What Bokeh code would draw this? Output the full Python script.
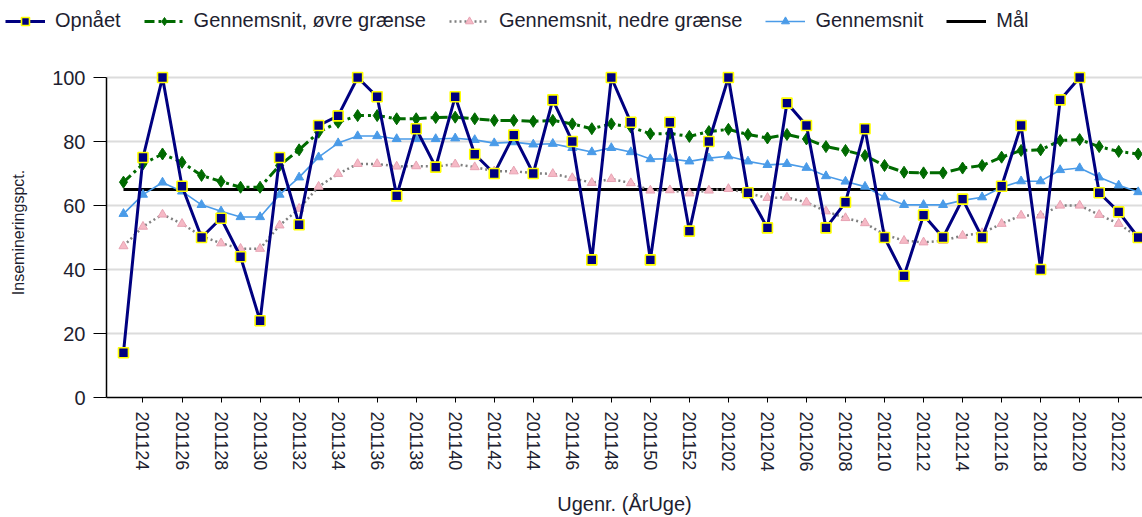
from bokeh.plotting import figure
from bokeh.layouts import column, row
from bokeh.models import ColumnDataSource, Range1d, FixedTicker, Legend, LegendItem
from bokeh.embed import file_html
from bokeh.resources import INLINE

weeks = ["201123", "201124", "201125", "201126", "201127", "201128", "201129", "201130",
         "201131", "201132", "201133", "201134", "201135", "201136", "201137", "201138",
         "201139", "201140", "201141", "201142", "201143", "201144", "201145", "201146",
         "201147", "201148", "201149", "201150", "201151", "201152", "201201", "201202",
         "201203", "201204", "201205", "201206", "201207", "201208", "201209", "201210",
         "201211", "201212", "201213", "201214", "201215", "201216", "201217", "201218",
         "201219", "201220", "201221", "201222", "201223"]

opnaet = [14, 75, 100, 66, 50, 56, 44, 24, 75, 54, 85, 88, 100, 94, 63, 84, 72, 94, 76,
          70, 82, 70, 93, 80, 43, 100, 86, 43, 86, 52, 80, 100, 64, 53, 92, 85, 53, 61,
          84, 50, 38, 57, 50, 62, 50, 66, 85, 40, 93, 100, 64, 58, 50]

ovre = [67.3, 73.0, 76.1, 73.5, 69.4, 67.5, 65.7, 65.7, 72.5, 77.4, 82.9, 86.0, 88.1,
        88.1, 87.1, 87.1, 87.5, 87.6, 87.1, 86.6, 86.6, 86.3, 86.6, 85.5, 84.0, 85.5,
        84.5, 82.4, 82.5, 81.6, 83.1, 83.8, 82.2, 81.1, 82.2, 80.8, 78.4, 77.2, 75.6,
        72.5, 70.4, 70.2, 70.2, 71.7, 72.5, 75.1, 77.2, 77.4, 80.3, 80.6, 78.4, 76.9, 76.1]

gennemsnit = [57.4, 63.4, 67.2, 64.4, 60.2, 58.2, 56.4, 56.4, 63.4, 68.8, 75.1, 79.5,
              81.7, 81.7, 80.8, 80.8, 80.8, 81.0, 80.5, 79.5, 79.8, 79.1, 79.3, 78.0,
              76.7, 78.0, 76.7, 74.5, 74.6, 73.8, 74.8, 75.4, 73.8, 72.7, 73.0, 71.8,
              69.2, 67.5, 65.9, 62.6, 60.2, 60.2, 60.2, 61.6, 62.6, 65.7, 67.6, 67.6,
              71.1, 71.7, 68.8, 66.3, 64.2]

nedre = [47.3, 53.4, 57.2, 54.3, 50.4, 48.2, 46.5, 46.5, 53.8, 59.0, 65.9, 69.9, 73.0,
         73.0, 72.2, 72.3, 72.2, 72.9, 72.0, 70.7, 70.7, 70.1, 69.9, 68.6, 67.1, 68.3,
         67.0, 64.7, 64.8, 63.8, 64.7, 65.2, 63.8, 62.4, 62.5, 61.0, 58.2, 56.1, 54.5,
         50.9, 49.0, 48.5, 49.0, 50.6, 51.4, 54.3, 56.9, 56.9, 60.0, 60.0, 57.1, 54.3, 50.1]

maal = [65, 65, 65, 65, 65, 65, 65, 65, 65, 65, 65, 65, 65, 65, 65, 65, 65, 65, 65, 65,
        65, 65, 65, 65, 65, 65, 65, 65, 65, 65, 65, 65, 65, 65, 65, 65, 65, 65, 65, 65,
        65, 65, 65, 65, 65, 65, 65, 65, 65, 65, 65, 65, 65]

y_ticks = [0, 20, 40, 60, 80, 100]

series_labels = ["Opnået", "Gennemsnit, øvre grænse", "Gennemsnit, nedre grænse",
                 "Gennemsnit", "Mål"]

idx = list(range(len(weeks)))
src = ColumnDataSource(dict(x=idx, week=weeks, opnaet=opnaet, ovre=ovre,
                            gennemsnit=gennemsnit, nedre=nedre, maal=maal))

FONT = "Liberation Sans"
TXT = "#1e1e30"

# styles
S_MAAL = dict(line_color="black", line_width=3)
S_NED_L = dict(line_color="#808080", line_width=2.5, line_dash="2 3")
S_NED_M = dict(marker="triangle", size=9, fill_color="#f6b9c6", line_color="#e7a3b3", line_width=1)
S_GEN_L = dict(line_color="#4a9be8", line_width=1.6)
S_GEN_M = dict(marker="triangle", size=9, fill_color="#4a9be8", line_color="#4a9be8")
S_OVR_L = dict(line_color="#006a00", line_width=3, line_dash="10 4 3 4")
S_OVR_M = dict(marker="diamond", size=12, fill_color="#006a00", line_color="#006a00")
S_OPN_L = dict(line_color="#000080", line_width=3)
S_OPN_M = dict(marker="square", size=10, fill_color="#000080", line_color="#ffff00", line_width=1.6)

LEG_H = 44


def add_series(fig):
    r_maal = [fig.line("x", "maal", source=src, **S_MAAL)]
    r_ned = [fig.line("x", "nedre", source=src, **S_NED_L),
             fig.scatter("x", "nedre", source=src, **S_NED_M)]
    r_gen = [fig.line("x", "gennemsnit", source=src, **S_GEN_L),
             fig.scatter("x", "gennemsnit", source=src, **S_GEN_M)]
    r_ovr = [fig.line("x", "ovre", source=src, **S_OVR_L),
             fig.scatter("x", "ovre", source=src, **S_OVR_M)]
    r_opn = [fig.line("x", "opnaet", source=src, **S_OPN_L),
             fig.scatter("x", "opnaet", source=src, **S_OPN_M)]
    return [r_opn, r_ovr, r_ned, r_gen, r_maal]


p = figure(width=1142, height=517 - LEG_H,
           x_range=Range1d(-0.87, 52.22), y_range=Range1d(0, 103.125),
           output_backend="svg", toolbar_location=None,
           min_border_left=106, min_border_top=67 - LEG_H, min_border_bottom=120,
           min_border_right=0)
p.outline_line_color = None
p.background_fill_color = "white"
p.border_fill_color = "white"

p.xgrid.visible = False
p.ygrid.ticker = FixedTicker(ticks=y_ticks[1:])
p.ygrid.grid_line_color = "#dcdcdc"
p.ygrid.grid_line_width = 2

# y axis
p.yaxis.ticker = FixedTicker(ticks=y_ticks)
p.yaxis.bounds = (0, 100)
p.yaxis.major_tick_out = 13
p.yaxis.major_tick_in = 0
p.yaxis.minor_tick_line_color = None
p.yaxis.major_label_standoff = 8
p.yaxis.major_label_text_font = FONT
p.yaxis.major_label_text_font_size = "20px"
p.yaxis.major_label_text_color = TXT
p.yaxis.axis_label = "Insemineringspct."
p.yaxis.axis_label_text_font = FONT
p.yaxis.axis_label_text_font_size = "16px"
p.yaxis.axis_label_text_font_style = "normal"
p.yaxis.axis_label_text_color = TXT
p.yaxis.axis_label_standoff = 22
p.yaxis.axis_line_color = "black"
p.yaxis.axis_line_width = 1.5
p.yaxis.major_tick_line_color = "black"

# x axis
xt = idx[1::2]
p.xaxis.ticker = FixedTicker(ticks=xt)
p.xaxis.major_label_overrides = {i: weeks[i] for i in xt}
p.xaxis.major_label_orientation = "vertical"
p.xaxis.major_tick_out = 5
p.xaxis.major_tick_in = 0
p.xaxis.minor_tick_line_color = None
p.xaxis.major_label_standoff = 9
p.xaxis.major_label_text_font = FONT
p.xaxis.major_label_text_font_size = "18px"
p.xaxis.major_label_text_color = TXT
p.xaxis.axis_label = "Ugenr. (ÅrUge)"
p.xaxis.axis_label_text_font = FONT
p.xaxis.axis_label_text_font_size = "20px"
p.xaxis.axis_label_text_font_style = "normal"
p.xaxis.axis_label_text_color = TXT
p.xaxis.axis_label_standoff = 18
p.xaxis.axis_line_color = "black"
p.xaxis.axis_line_width = 1.5
p.xaxis.major_tick_line_color = "black"

add_series(p)

# legend strip: separate figure whose frame spans the full width, so the
# legend can start at the far left like the original; its series lie outside
# its (far away) ranges and only feed the legend swatches.
lg = figure(width=1142, height=LEG_H, x_range=Range1d(-1000, -999),
            y_range=Range1d(-1000, -999),
            output_backend="svg", toolbar_location=None,
            x_axis_type=None, y_axis_type=None,
            min_border_left=0, min_border_right=0, min_border_top=0, min_border_bottom=0)
lg.outline_line_color = None
lg.grid.visible = False
lg.border_fill_color = "white"
lg_groups = add_series(lg)

legend = Legend(items=[LegendItem(label=lab, renderers=rs) for lab, rs in
                       zip(series_labels, lg_groups)],
                orientation="horizontal", location=(5, 12),
                glyph_width=40, glyph_height=20, label_standoff=10, spacing=23,
                padding=0, margin=0, border_line_color=None, background_fill_alpha=0,
                label_text_font=FONT, label_text_font_size="20px", label_text_color=TXT)
lg.add_layout(legend, "center")

layout = column(row(lg), p, spacing=0)
open("out.html", "w").write(file_html(layout, INLINE))
